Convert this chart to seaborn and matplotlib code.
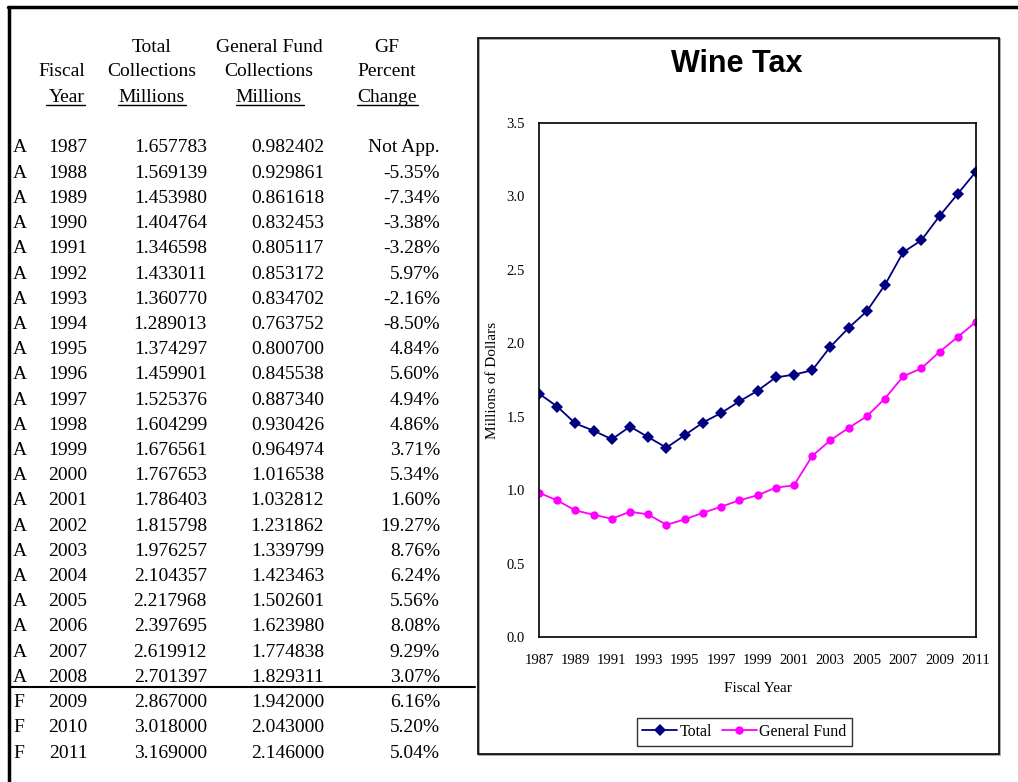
import numpy as np
import pandas as pd
import seaborn as sns
import matplotlib.pyplot as plt
from matplotlib.lines import Line2D
from matplotlib.patches import Rectangle

# data
years = list(range(1987, 2012))
status = ['A'] * 22 + ['F'] * 3
total = [1.657783, 1.569139, 1.453980, 1.404764, 1.346598, 1.433011, 1.360770,
         1.289013, 1.374297, 1.459901, 1.525376, 1.604299, 1.676561, 1.767653,
         1.786403, 1.815798, 1.976257, 2.104357, 2.217968, 2.397695, 2.619912,
         2.701397, 2.867000, 3.018000, 3.169000]
general_fund = [0.982402, 0.929861, 0.861618, 0.832453, 0.805117, 0.853172,
                0.834702, 0.763752, 0.800700, 0.845538, 0.887340, 0.930426,
                0.964974, 1.016538, 1.032812, 1.231862, 1.339799, 1.423463,
                1.502601, 1.623980, 1.774838, 1.829311, 1.942000, 2.043000,
                2.146000]
gf_change = ['Not App.', '-5.35%', '-7.34%', '-3.38%', '-3.28%', '5.97%', '-2.16%',
             '-8.50%', '4.84%', '5.60%', '4.94%', '4.86%', '3.71%', '5.34%',
             '1.60%', '19.27%', '8.76%', '6.24%', '5.56%', '8.08%', '9.29%',
             '3.07%', '6.16%', '5.20%', '5.04%']

df = pd.DataFrame({'Fiscal Year': years, 'Total': total, 'General Fund': general_fund})
long_df = df.melt(id_vars='Fiscal Year', var_name='Series', value_name='Value')

sns.set_style('white')
plt.rcParams['font.family'] = ['Liberation Serif', 'DejaVu Serif']
plt.rcParams['text.color'] = 'black'
plt.rcParams['axes.labelcolor'] = 'black'

W, H = 1018, 782
fig = plt.figure(figsize=(W / 100, H / 100), dpi=100)


def fx(x):
    return x / W


def fy(y):
    return 1 - y / H


# page border (top and left)
fig.add_artist(Line2D([fx(8), 1], [fy(7), fy(7)], color='black', lw=2.5))
fig.add_artist(Line2D([fx(9), fx(9)], [fy(7), 0], color='black', lw=2.5))

# table
tsize = 14
heads = [(85, 'right', ['', 'Fiscal', 'Year']),
         (152, 'center', ['Total', 'Collections', 'Millions']),
         (269, 'center', ['General Fund', 'Collections', 'Millions']),
         (387, 'center', ['GF', 'Percent', 'Change'])]
for cx, ha, lines in heads:
    for i, s in enumerate(lines):
        if s:
            fig.text(fx(cx), fy(47 + 25 * i), s, ha=ha, va='center', fontsize=tsize)
for x0, x1 in [(46, 85), (118, 186), (236, 304), (357, 418)]:
    fig.add_artist(Line2D([fx(x0), fx(x1)], [fy(105), fy(105)], color='black', lw=1))

row_h = (752 - 147) / 24
for i in range(len(years)):
    y = fy(148 + row_h * i)
    fig.text(fx(13), y, status[i], ha='left', va='center', fontsize=tsize)
    fig.text(fx(68), y, str(years[i]), ha='center', va='center', fontsize=tsize)
    fig.text(fx(207), y, f'{total[i]:.6f}', ha='right', va='center', fontsize=tsize)
    fig.text(fx(324), y, f'{general_fund[i]:.6f}', ha='right', va='center', fontsize=tsize)
    fig.text(fx(440), y, gf_change[i], ha='right', va='center', fontsize=tsize)
fig.add_artist(Line2D([fx(9), fx(475)], [fy(687), fy(687)], color='black', lw=1.5))

# chart frame (with a faint shadow)
fig.add_artist(Rectangle((fx(479), fy(755)), fx(999 - 478), (754 - 38) / H,
                         fill=False, edgecolor='#999999', lw=1.2))
fig.add_artist(Rectangle((fx(478), fy(754)), fx(999 - 478), (754 - 38) / H,
                         fill=False, edgecolor='black', lw=1.2))
fig.text(fx(737), fy(64), 'Wine Tax', ha='center', va='center', fontsize=22,
         fontweight='bold', color='black', family=['Liberation Sans', 'DejaVu Sans'])

ax = fig.add_axes([fx(539), fy(637), fx(976 - 539), (637 - 123) / H])
sns.lineplot(data=long_df, x='Fiscal Year', y='Value', hue='Series', style='Series',
             palette={'Total': '#000080', 'General Fund': '#FF00FF'},
             markers={'Total': 'D', 'General Fund': 'o'}, dashes=False,
             markersize=6, markeredgewidth=0, linewidth=1.3, ax=ax)

ax.set_xlim(1987, 2011)
ax.set_ylim(0, 3.5)
ax.set_xticks(years)
ax.set_xticklabels([str(y) if (y - 1987) % 2 == 0 else '' for y in years])
ax.set_yticks(np.arange(0, 3.6, 0.5))
ax.set_yticklabels([f'{v:.1f}' for v in np.arange(0, 3.6, 0.5)])
ax.tick_params(axis='both', direction='in', length=5, width=1, labelsize=10.5,
               colors='black')
ax.tick_params(axis='x', pad=12)
ax.tick_params(axis='y', pad=10)
for sp in ax.spines.values():
    sp.set_color('black')
    sp.set_linewidth(1.2)
ax.set_xlabel('Fiscal Year', fontsize=11, va='center')
ax.set_ylabel('Millions of Dollars', fontsize=11, va='center')
ax.xaxis.set_label_coords(0.5, (637 - 688) / (637 - 123))
ax.yaxis.set_label_coords((492 - 539) / (976 - 539), 0.5)

leg = ax.legend(loc='center', bbox_to_anchor=(fx(744.5), fy(732)),
                bbox_transform=fig.transFigure,
                ncol=2, frameon=True, fancybox=False, fontsize=11.5,
                handlelength=2.2, handletextpad=0.15, columnspacing=0.6,
                borderpad=0.35, borderaxespad=0, edgecolor='black')
leg.get_frame().set_linewidth(1)
for t in leg.get_texts():
    t.set_color('black')

fig.savefig('out.png', dpi=100)
